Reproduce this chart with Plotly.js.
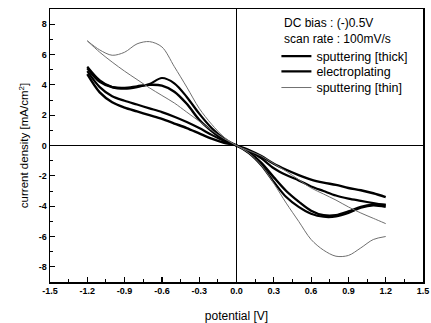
<!DOCTYPE html>
<html>
<head>
<meta charset="utf-8">
<script src="https://cdn.plot.ly/plotly-3.0.1.min.js"></script>
<style>html,body{margin:0;padding:0;background:#fff}#chart{width:431px;height:323px}</style>
</head>
<body>
<div id="chart"></div>
<script>
// potentials (V)
const potentialLeft  = [-1.2, -1.1, -1.0, -0.9, -0.8, -0.7, -0.6, -0.5, -0.4, -0.3, -0.2, -0.1, 0.0];
const potentialRight = [0.0, 0.1, 0.2, 0.3, 0.4, 0.5, 0.6, 0.7, 0.8, 0.9, 1.0, 1.1, 1.2];

// sputtering [thick] (mA/cm2)
const sputThickLeftHump   = [5.2, 4.3, 3.85, 3.75, 3.85, 4.05, 4.45, 4.1, 3.2, 2.1, 1.15, 0.45, 0.0];
const sputThickRightPlain = [0.0, -0.35, -0.85, -1.5, -1.95, -2.3, -2.7, -3.0, -3.3, -3.5, -3.65, -3.8, -3.95];
const sputThickRightHump  = [0.0, -0.5, -1.3, -2.4, -3.4, -4.05, -4.5, -4.7, -4.68, -4.45, -4.1, -3.95, -4.05];
const sputThickLeftPlain  = [4.9, 3.85, 3.25, 2.95, 2.7, 2.45, 2.2, 1.9, 1.55, 1.15, 0.7, 0.3, 0.0];

// electroplating (mA/cm2)
const electroLeftHump   = [5.1, 4.2, 3.85, 3.8, 3.9, 4.0, 3.95, 3.55, 2.75, 1.7, 0.95, 0.35, 0.0];
const electroRightPlain = [0.0, -0.3, -0.7, -1.2, -1.6, -1.95, -2.25, -2.45, -2.6, -2.8, -2.95, -3.15, -3.4];
const electroRightHump  = [0.0, -0.45, -1.15, -2.1, -3.0, -3.7, -4.3, -4.6, -4.6, -4.35, -4.05, -3.9, -3.9];
const electroLeftPlain  = [4.7, 3.5, 2.85, 2.5, 2.25, 2.0, 1.75, 1.45, 1.15, 0.8, 0.45, 0.18, 0.0];

// sputtering [thin] (mA/cm2)
const sputThinLeftHump   = [6.9, 6.3, 5.95, 6.15, 6.7, 6.85, 6.5, 5.2, 3.85, 2.45, 1.4, 0.55, 0.0];
const sputThinRightPlain = [0.0, -0.35, -0.7, -1.2, -1.7, -2.25, -2.8, -3.2, -3.6, -4.05, -4.45, -4.8, -5.15];
const sputThinRightHump  = [0.0, -0.5, -1.3, -2.5, -3.8, -5.0, -6.2, -6.9, -7.3, -7.25, -6.75, -6.2, -6.0];
const sputThinLeftPlain  = [6.9, 6.15, 5.5, 4.9, 4.35, 3.8, 3.3, 2.8, 2.2, 1.6, 1.0, 0.45, 0.0];

const seriesNames = ['sputtering [thick]', 'electroplating', 'sputtering [thin]'];
const xTickVals = [-1.5, -1.2, -0.9, -0.6, -0.3, 0.0, 0.3, 0.6, 0.9, 1.2, 1.5];
const xTickText = ['-1.5', '-1.2', '-0.9', '-0.6', '-0.3', '0.0', '0.3', '0.6', '0.9', '1.2', '1.5'];
const yTickVals = [-8, -6, -4, -2, 0, 2, 4, 6, 8];
const yTickText = ['-8', '-6', '-4', '-2', '0', '2', '4', '6', '8'];
const legendHeader = ['DC bias : (-)0.5V', 'scan rate : 100mV/s'];

function loop(leftHump, rightPlain, rightHump, leftPlain) {
  const x = [], y = [];
  potentialLeft.forEach((v, i) => { x.push(v); y.push(leftHump[i]); });
  potentialRight.slice(1).forEach((v, i) => { x.push(v); y.push(rightPlain[i + 1]); });
  x.push(null); y.push(null);
  for (let i = potentialRight.length - 1; i >= 0; i--) { x.push(potentialRight[i]); y.push(rightHump[i]); }
  for (let i = potentialLeft.length - 2; i >= 0; i--) { x.push(potentialLeft[i]); y.push(leftPlain[i]); }
  return {x, y};
}

const d1 = loop(sputThickLeftHump, sputThickRightPlain, sputThickRightHump, sputThickLeftPlain);
const d2 = loop(electroLeftHump, electroRightPlain, electroRightHump, electroLeftPlain);
const d3 = loop(sputThinLeftHump, sputThinRightPlain, sputThinRightHump, sputThinLeftPlain);

const traces = [
  {x: d1.x, y: d1.y, name: seriesNames[0], legend: 'legend', mode: 'lines', line: {color: '#000', width: 2.2, shape: 'spline', smoothing: 0.9}},
  {x: d2.x, y: d2.y, name: seriesNames[1], legend: 'legend2', mode: 'lines', line: {color: '#000', width: 2.4, shape: 'spline', smoothing: 0.9}},
  {x: d3.x, y: d3.y, name: seriesNames[2], legend: 'legend3', mode: 'lines', line: {color: '#707070', width: 1, shape: 'spline', smoothing: 0.9}}
];

const font = 'Arial, "Liberation Sans", sans-serif';
function leg(y) {
  return {
    x: 0.607, y: y, xanchor: 'left', yanchor: 'middle',
    bgcolor: 'rgba(0,0,0,0)', borderwidth: 0,
    font: {family: font, size: 12.5, color: '#000'},
    itemwidth: 30
  };
}
const layout = {
  width: 431, height: 323,
  margin: {l: 50, r: 8, t: 9, b: 41},
  paper_bgcolor: '#fff', plot_bgcolor: '#fff',
  font: {family: font, color: '#000'},
  showlegend: true,
  legend: leg(0.826),
  legend2: leg(0.770),
  legend3: leg(0.711),
  annotations: [{
    xref: 'paper', yref: 'paper', x: 0.623, y: 0.98, xanchor: 'left', yanchor: 'top',
    align: 'left', showarrow: false,
    text: legendHeader.join('<br>'),
    font: {family: font, size: 12, color: '#000'}
  }],
  xaxis: {
    range: [-1.5, 1.5], tickmode: 'array', tickvals: xTickVals, ticktext: xTickText,
    ticks: 'inside', ticklen: 5, tickwidth: 1.2, tickcolor: '#000',
    minor: {ticks: 'inside', ticklen: 3, dtick: 0.15, tickcolor: '#000', tickwidth: 1},
    showline: true, mirror: true, linecolor: '#000', linewidth: 1.5,
    showgrid: false, zeroline: true, zerolinecolor: '#000', zerolinewidth: 1.2,
    tickfont: {family: font, size: 9, color: '#000', weight: 'bold'},
    title: {text: 'potential [V]', font: {family: font, size: 12, color: '#000'}, standoff: 16}
  },
  yaxis: {
    range: [-9, 9], tickmode: 'array', tickvals: yTickVals, ticktext: yTickText,
    ticks: 'inside', ticklen: 5, tickwidth: 1.2, tickcolor: '#000',
    minor: {ticks: 'inside', ticklen: 3, dtick: 1, tickcolor: '#000', tickwidth: 1},
    showline: true, mirror: true, linecolor: '#000', linewidth: 1.5,
    showgrid: false, zeroline: true, zerolinecolor: '#000', zerolinewidth: 1.2,
    tickfont: {family: font, size: 9, color: '#000', weight: 'bold'},
    title: {text: 'current density [mA/cm<sup>2</sup>]', font: {family: font, size: 11.5, color: '#000'}, standoff: 7}
  }
};

Plotly.newPlot('chart', traces, layout, {staticPlot: true, displayModeBar: false});
</script>
</body>
</html>
